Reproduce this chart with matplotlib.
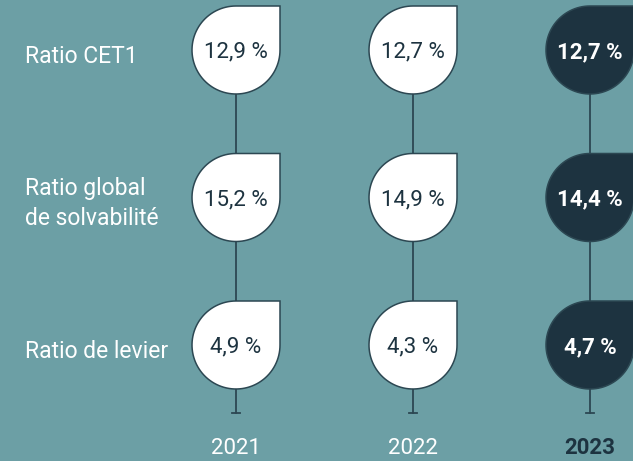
import numpy as np
import matplotlib.pyplot as plt
from matplotlib.path import Path
from matplotlib.patches import PathPatch

# ===================== DATA =====================
years = ['2021', '2022', '2023']
row_labels = ['Ratio CET1', 'Ratio global\nde solvabilité', 'Ratio de levier']
cet1 = [12.9, 12.7, 12.7]
solva = [15.2, 14.9, 14.4]
levier = [4.9, 4.3, 4.7]
rows = [cet1, solva, levier]

# ===================== STYLE =====================
BG = '#6c9fa5'
DARK = '#1d3340'
LINE = '#2c4752'
FONT = ['Liberation Sans Narrow', 'Roboto']

W, H = 633, 461
fig = plt.figure(figsize=(W / 100, H / 100), dpi=100, facecolor=BG)
ax = fig.add_axes([0, 0, 1, 1])
ax.set_facecolor(BG)

# column spacing / row spacing in pixels
dx, dy = 177.0, 147.5
x0, y0 = 236.0, 50.0
ax.set_xlim(-x0 / dx, (W - x0) / dx)
ax.set_ylim((H - y0) / dy, -y0 / dy)
ax.axis('off')

r = 44.0
rx, ry = r / dx, r / dy


def drop(cx, cy, fc):
    # circle with top-right quadrant squared off (y axis inverted)
    t = np.linspace(0, 1.5 * np.pi, 80)
    xs = cx + rx * np.cos(t)
    ys = cy + ry * np.sin(t)
    verts = list(zip(xs, ys))
    verts += [(cx + rx, cy - ry), (cx + rx, cy)]
    p = Path(verts + [verts[0]], [Path.MOVETO] + [Path.LINETO] * (len(verts) - 1) + [Path.CLOSEPOLY])
    ax.add_patch(PathPatch(p, facecolor=fc, edgecolor=LINE, lw=1.1, zorder=3))


bottom = (413 - y0) / dy
for i, yr in enumerate(years):
    ax.plot([i, i], [0, bottom], color=LINE, lw=1.3, zorder=1)
    ax.plot([i - 4 / dx, i + 4 / dx], [bottom, bottom], color=LINE, lw=1.3, zorder=1)
    last = i == len(years) - 1
    ax.text(i, (448 - y0) / dy, yr, ha='center', va='center', fontsize=16,
            family=FONT, color=DARK if last else 'white',
            fontweight='bold' if last else 'normal')
    for j, vals in enumerate(rows):
        drop(i, j, DARK if last else 'white')
        txt = f"{vals[i]:.1f} %".replace('.', ',')
        ax.text(i, j + 2 / dy, txt, ha='center', va='center', fontsize=16,
                family=FONT, color='white' if last else DARK,
                fontweight='bold' if last else 'normal', zorder=4)

for j, lab in enumerate(row_labels):
    ax.text(-x0 / dx + 25 / dx, j + 6 / dy, lab, ha='left', va='center',
            fontsize=16.5, family=FONT, color='white', linespacing=1.35)

plt.savefig('out.png', dpi=100, facecolor=BG)
